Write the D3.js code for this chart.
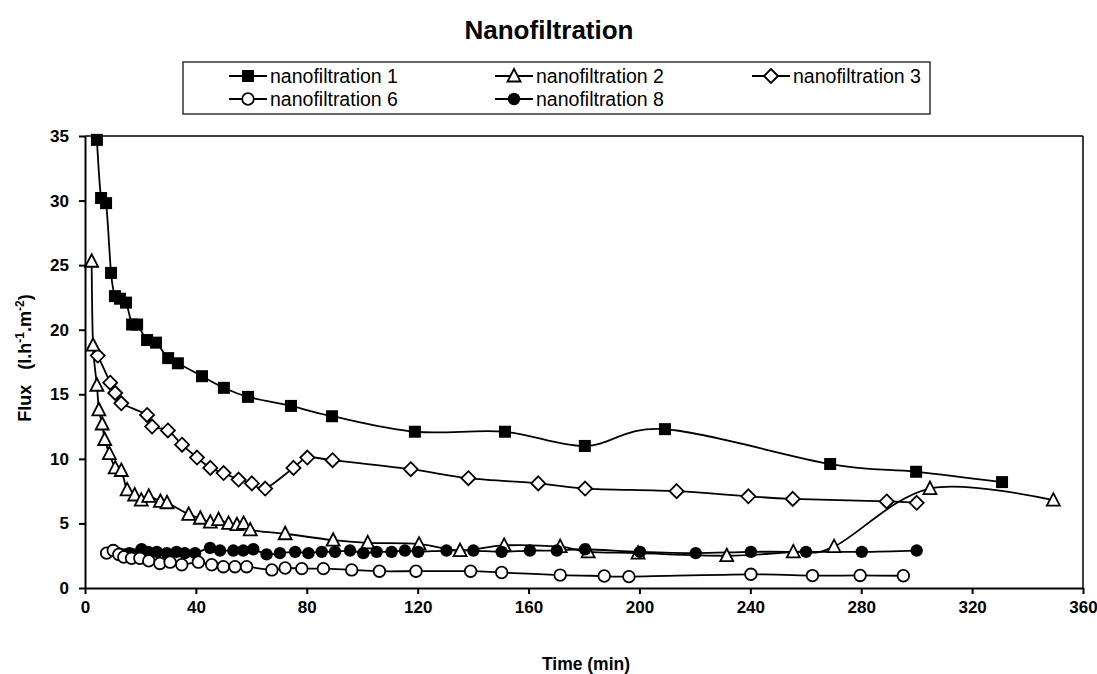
<!DOCTYPE html>
<html><head><meta charset="utf-8">
<script src="https://cdn.jsdelivr.net/npm/d3@7/dist/d3.min.js"></script>
<style>
body{margin:0;background:#fff;}
text{font-family:"Liberation Sans",Arial,sans-serif;fill:#000;}
</style></head>
<body><svg id="c" width="1097" height="674"></svg>
<script>
const xTicks = [0,40,80,120,160,200,240,280,320,360];
const yTicks = [0,5,10,15,20,25,30,35];

const nf1Time = [4.3,5.8,7.6,9.4,10.8,12.6,14.8,17,18.8,22.4,25.6,30,33.5,42.2,50.1,58.8,74.3,89.1,119,151.5,180.3,209.2,268.8,299.8,330.8];
const nf1Flux = [34.7,30.2,29.8,24.4,22.6,22.4,22.1,20.4,20.4,19.2,19.0,17.8,17.4,16.4,15.5,14.8,14.1,13.3,12.1,12.1,11.0,12.3,9.6,9.0,8.2];

const nf2Time = [2.4,2.9,4.3,5.0,6.2,7.1,8.8,10.9,13.1,15.2,17.9,20.3,23,27.2,29.6,37.4,41.6,45.2,48.2,51.8,54.8,57.2,59.6,72.2,89.5,102,120.5,135.3,151.2,171.4,181.5,199.5,231.5,255.5,270.2,304.8,349.3];
const nf2Flux = [25.3,18.8,15.7,13.8,12.7,11.5,10.4,9.3,9.1,7.6,7.2,6.8,7.1,6.7,6.6,5.7,5.4,5.1,5.3,5.0,4.9,5.0,4.5,4.2,3.7,3.5,3.4,2.9,3.3,3.2,2.8,2.7,2.5,2.8,3.2,7.7,6.8];

const nf3Time = [4.6,9.1,10.9,13.1,22.4,24.2,29.9,35,40.4,45.2,50,55.4,60.2,65,75.2,80.2,89.3,117.5,138.3,163.5,180.4,213.4,239.3,255.3,289.2,300];
const nf3Flux = [18.0,15.9,15.1,14.3,13.4,12.5,12.2,11.1,10.1,9.3,8.9,8.4,8.1,7.7,9.3,10.1,9.9,9.2,8.5,8.1,7.7,7.5,7.1,6.9,6.7,6.6];

const nf6Time = [7.8,10.2,12.2,14,16.8,19.8,23,27,30.7,34.9,40.9,45.7,49.9,54.1,58.3,67.4,72.2,78.2,86,96.2,106.2,119.4,139.1,150.3,171.4,187.3,196.2,240.2,262.4,279.6,295.2];
const nf6Flux = [2.7,2.9,2.6,2.4,2.3,2.3,2.1,1.9,2.0,1.8,2.0,1.8,1.65,1.65,1.65,1.4,1.55,1.5,1.5,1.4,1.3,1.3,1.3,1.2,1.0,0.93,0.88,1.06,0.96,0.97,0.95];

const nf8Time = [10,12,14,16,18,20.4,22.8,25.9,29.5,33,36,39.7,45.1,48.7,53.5,57.1,60.7,65.5,70.3,75.8,80.6,85.4,90.2,95.6,100.4,105.2,110.6,115.4,120.2,130.4,140.1,150.3,160.5,170.2,180.4,200.2,220.3,240.2,260.1,280.2,300];
const nf8Flux = [2.9,2.7,2.6,2.7,2.6,3.0,2.8,2.8,2.7,2.8,2.7,2.7,3.1,2.9,2.9,2.9,3.0,2.6,2.7,2.8,2.7,2.8,2.8,2.9,2.7,2.8,2.8,2.9,2.8,2.9,2.9,2.8,2.9,2.9,3.0,2.8,2.7,2.8,2.8,2.8,2.9];

const seriesNames = ["nanofiltration 1","nanofiltration 2","nanofiltration 3","nanofiltration 6","nanofiltration 8"];
const seriesTimes = [nf1Time,nf2Time,nf3Time,nf6Time,nf8Time];
const seriesFlux = [nf1Flux,nf2Flux,nf3Flux,nf6Flux,nf8Flux];
const seriesMarker = ["square","triangle","diamond","circleOpen","circleFilled"];

const svg = d3.select("#c");
const x = d3.scaleLinear().domain([0,360]).range([85,1083]);
const y = d3.scaleLinear().domain([0,35]).range([588,136]);

// frame
svg.append("line").attr("x1",85).attr("x2",1083).attr("y1",136).attr("y2",136).attr("stroke","#000").attr("stroke-width",1.5);
svg.append("line").attr("x1",1083).attr("x2",1083).attr("y1",136).attr("y2",588).attr("stroke","#000").attr("stroke-width",1.5);

const xAxis = svg.append("g").attr("transform","translate(0,588)")
  .call(d3.axisBottom(x).tickValues(xTicks).tickSize(6).tickSizeOuter(0).tickPadding(7));
const yAxis = svg.append("g").attr("transform","translate(85,0)")
  .call(d3.axisLeft(y).tickValues(yTicks).tickSize(6).tickSizeOuter(0).tickPadding(10));
[xAxis,yAxis].forEach(a=>{
  a.selectAll("path,line").attr("stroke","#000").attr("stroke-width",2);
  a.selectAll("text").attr("font-size",17).style("font-weight","bold").attr("font-family","Liberation Sans, Arial, sans-serif").attr("fill","#000");
});

function marker(g, type, cx, cy){
  if(type==="square"){
    g.append("rect").attr("x",cx-6).attr("y",cy-6).attr("width",12).attr("height",12).attr("fill","#000");
  } else if(type==="triangle"){
    g.append("path").attr("d",`M${cx},${cy-7}L${cx+6.5},${cy+5.5}L${cx-6.5},${cy+5.5}Z`).attr("fill","#fff").attr("stroke","#000").attr("stroke-width",1.8);
  } else if(type==="diamond"){
    g.append("path").attr("d",`M${cx},${cy-7}L${cx+7},${cy}L${cx},${cy+7}L${cx-7},${cy}Z`).attr("fill","#fff").attr("stroke","#000").attr("stroke-width",1.8);
  } else if(type==="circleOpen"){
    g.append("circle").attr("cx",cx).attr("cy",cy).attr("r",5.8).attr("fill","#fff").attr("stroke","#000").attr("stroke-width",1.8);
  } else {
    g.append("circle").attr("cx",cx).attr("cy",cy).attr("r",6.2).attr("fill","#000");
  }
}

const line = d3.line().x(d=>x(d[0])).y(d=>y(d[1])).curve(d3.curveCatmullRom.alpha(0));
const order = [0,2,1,4,3];
order.forEach(i=>{
  const pts = seriesTimes[i].map((t,j)=>[t,seriesFlux[i][j]]);
  svg.append("path").datum(pts).attr("d",line).attr("fill","none").attr("stroke","#000").attr("stroke-width",1.8);
});
order.forEach(i=>{
  const g = svg.append("g");
  seriesTimes[i].forEach((t,j)=>marker(g, seriesMarker[i], x(t), y(seriesFlux[i][j])));
});

// title
svg.append("text").attr("x",549).attr("y",39).attr("text-anchor","middle").attr("font-size",26).style("font-weight","bold").text("Nanofiltration");
// axis titles
svg.append("text").attr("x",586).attr("y",670).attr("text-anchor","middle").attr("font-size",17.5).style("font-weight","bold").text("Time (min)");
const yl = svg.append("text").attr("transform","translate(31,358) rotate(-90)").attr("text-anchor","middle").attr("font-size",18).style("font-weight","bold");
yl.append("tspan").text("Flux\u00a0\u00a0\u00a0(l.h");
yl.append("tspan").attr("baseline-shift","super").attr("font-size",12).text("-1");
yl.append("tspan").text(".m");
yl.append("tspan").attr("baseline-shift","super").attr("font-size",12).text("-2");
yl.append("tspan").text(")");

// legend
svg.append("rect").attr("x",183).attr("y",62).attr("width",747).attr("height",52).attr("fill","#fff").attr("stroke","#000").attr("stroke-width",1.2);
const legPos = [[229,76],[495,76],[752,76],[229,99],[495,99]];
seriesNames.forEach((n,i)=>{
  const [lx,ly] = legPos[i];
  const lg = svg.append("g");
  lg.append("line").attr("x1",lx).attr("x2",lx+38).attr("y1",ly).attr("y2",ly).attr("stroke","#000").attr("stroke-width",1.8);
  marker(lg, seriesMarker[i], lx+19, ly);
  lg.append("text").attr("x",lx+41).attr("y",ly+7).attr("font-size",19.5).style("font-weight","normal").text(n);
});
</script></body></html>
